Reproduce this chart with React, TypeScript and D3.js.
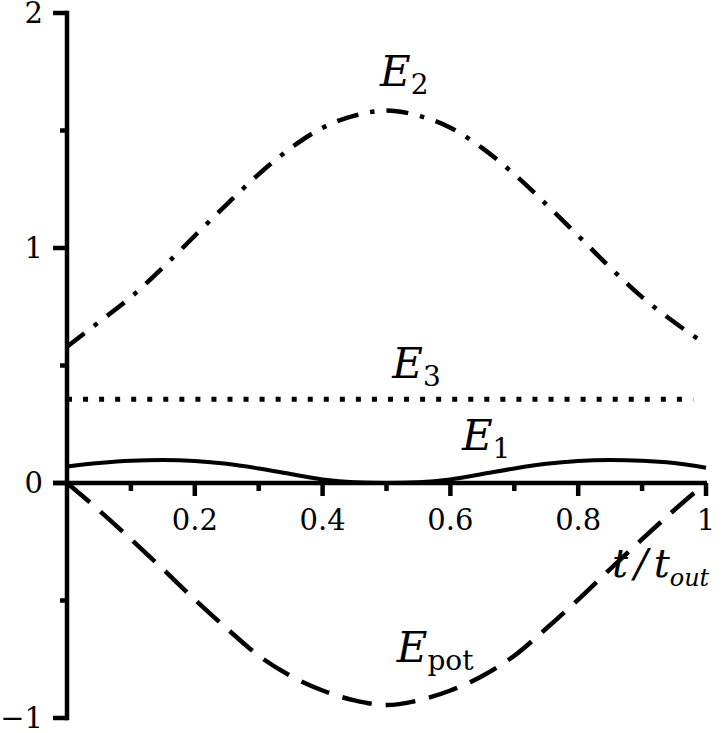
import React, { useRef, useEffect } from 'react';
import * as d3 from 'd3';

// time grid (t / t_out) and energies
const T = [0, 0.05, 0.1, 0.15, 0.2, 0.25, 0.3, 0.35, 0.4, 0.45, 0.5,
  0.55, 0.6, 0.65, 0.7, 0.75, 0.8, 0.85, 0.9, 0.95, 1];
const E1 = [0.07, 0.085, 0.095, 0.098, 0.094, 0.082, 0.062, 0.038, 0.015, 0.003, 0,
  0.003, 0.015, 0.038, 0.062, 0.082, 0.094, 0.098, 0.095, 0.085, 0.065];
const E2 = [0.58, 0.685, 0.791, 0.917, 1.052, 1.186, 1.314, 1.425, 1.512, 1.563, 1.585,
  1.563, 1.512, 1.425, 1.314, 1.186, 1.052, 0.917, 0.791, 0.685, 0.59];
const EPOT = [0, -0.116, -0.239, -0.366, -0.496, -0.619, -0.735, -0.821, -0.883, -0.925, -0.945,
  -0.925, -0.883, -0.821, -0.735, -0.619, -0.496, -0.366, -0.239, -0.116, 0];
const E3_T = [0, 0.98];
const E3 = [0.356, 0.356];

const X_MAJOR = [0.2, 0.4, 0.6, 0.8, 1];
const X_MAJOR_LABELS = ['0.2', '0.4', '0.6', '0.8', '1'];
const X_MINOR = [0.1, 0.3, 0.5, 0.7, 0.9];
const Y_MAJOR = [-1, 0, 1, 2];
const Y_MAJOR_LABELS = ['\u22121', '0', '1', '2'];
const Y_MINOR = [-0.5, 0.5, 1.5];

const W = 724;
const H = 733;
const FONT = '"DejaVu Serif", serif';

export default function App() {
  const svgRef = useRef<SVGSVGElement>(null);

  useEffect(() => {
    if (!svgRef.current) return;
    const svg = d3.select(svgRef.current);
    svg.selectAll('*').remove();

    const x = d3.scaleLinear().domain([0, 1]).range([67, 706]);
    const y = d3.scaleLinear().domain([-1, 2]).range([718, 13]);

    const axisW = 4.5;
    const g = svg.append('g');

    // y axis
    g.append('line')
      .attr('x1', x(0)).attr('x2', x(0))
      .attr('y1', y(2) - axisW / 2).attr('y2', y(-1) + axisW / 2)
      .attr('stroke', '#000').attr('stroke-width', axisW);
    // x axis
    g.append('line')
      .attr('x1', x(0) - 14).attr('x2', x(1) + 1)
      .attr('y1', y(0)).attr('y2', y(0))
      .attr('stroke', '#000').attr('stroke-width', axisW);

    // y ticks
    g.selectAll('.ymaj').data(Y_MAJOR).enter().append('line')
      .attr('x1', x(0) - 14).attr('x2', x(0))
      .attr('y1', d => y(d)).attr('y2', d => y(d))
      .attr('stroke', '#000').attr('stroke-width', axisW);
    g.selectAll('.ymin').data(Y_MINOR).enter().append('line')
      .attr('x1', x(0) - 7).attr('x2', x(0))
      .attr('y1', d => y(d)).attr('y2', d => y(d))
      .attr('stroke', '#000').attr('stroke-width', axisW);
    g.selectAll('.ylab').data(Y_MAJOR).enter().append('text')
      .attr('x', x(0) - 24).attr('y', d => y(d) + 10)
      .attr('text-anchor', 'end')
      .style('font-family', FONT).style('font-size', '29px')
      .text((d, i) => Y_MAJOR_LABELS[i]);

    // x ticks
    g.selectAll('.xmaj').data(X_MAJOR).enter().append('line')
      .attr('x1', d => x(d)).attr('x2', d => x(d))
      .attr('y1', y(0)).attr('y2', y(0) + 13)
      .attr('stroke', '#000').attr('stroke-width', axisW);
    g.selectAll('.xmin').data(X_MINOR).enter().append('line')
      .attr('x1', d => x(d)).attr('x2', d => x(d))
      .attr('y1', y(0)).attr('y2', y(0) + 8)
      .attr('stroke', '#000').attr('stroke-width', axisW);
    g.selectAll('.xlab').data(X_MAJOR).enter().append('text')
      .attr('x', d => x(d)).attr('y', y(0) + 47)
      .attr('text-anchor', 'middle')
      .style('font-family', FONT).style('font-size', '29px')
      .text((d, i) => X_MAJOR_LABELS[i]);

    // curves
    const line = (ts: number[]) => d3.line<number>()
      .x((d, i) => x(ts[i]))
      .y(d => y(d))
      .curve(d3.curveMonotoneX);

    g.append('path').attr('d', line(E3_T)(E3))
      .attr('fill', 'none').attr('stroke', '#000').attr('stroke-width', 5)
      .attr('stroke-dasharray', '5 11.05');
    g.append('path').attr('d', line(T)(E1))
      .attr('fill', 'none').attr('stroke', '#000').attr('stroke-width', 4);
    g.append('path').attr('d', line(T)(E2))
      .attr('fill', 'none').attr('stroke', '#000').attr('stroke-width', 4.5)
      .attr('stroke-dasharray', '22 12 4.5 12');
    g.append('path').attr('d', line(T)(EPOT))
      .attr('fill', 'none').attr('stroke', '#000').attr('stroke-width', 4.5)
      .attr('stroke-dasharray', '30 14');

    // curve labels
    const label = (t: number, v: number, sub: string, subItalic = false) => {
      const txt = g.append('text')
        .attr('x', x(t)).attr('y', y(v))
        .style('font-family', FONT);
      txt.append('tspan').style('font-style', 'italic').style('font-size', '42px').text('E');
      txt.append('tspan').attr('dy', 8)
        .style('font-style', subItalic ? 'italic' : 'normal')
        .style('font-size', '28px').text(sub);
    };
    label(0.49, 1.69, '2');
    label(0.509, 0.447, '3');
    label(0.618, 0.14, '1');
    label(0.516, -0.762, 'pot');

    // axis title t / t_out
    const ttl = g.append('text')
      .attr('x', x(0.853)).attr('y', y(-0.4))
      .style('font-family', FONT).style('font-style', 'italic');
    ttl.append('tspan').style('font-size', '40px').text('t');
    ttl.append('tspan').attr('dx', 6).style('font-size', '40px').text('/');
    ttl.append('tspan').attr('dx', 6).style('font-size', '40px').text('t');
    ttl.append('tspan').attr('dy', 9).style('font-size', '24px').text('out');
  }, []);

  return (
    <svg
      ref={svgRef}
      width={W}
      height={H}
      style={{ position: 'absolute', left: 0, top: 0, background: '#fff' }}
    />
  );
}
